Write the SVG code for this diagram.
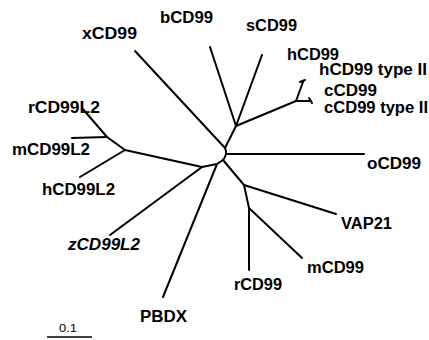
<svg xmlns="http://www.w3.org/2000/svg" width="429" height="340" viewBox="0 0 429 340">
<style>
.l{font-family:"Liberation Sans",Arial,sans-serif;font-weight:bold;font-size:16px;fill:#000}
.i{font-style:italic}
.s{font-family:"Liberation Sans",Arial,sans-serif;font-size:10px;fill:#000}
.e{fill:none;stroke:#000;stroke-width:2;stroke-linecap:round;stroke-linejoin:round}
</style>
<rect width="429" height="340" fill="#fff"/>
<g id="connectors" class="e">
<path d="M135,51 L225,148"/>
<path d="M210,47 L236,126"/>
<path d="M262,55 L236,126"/>
<path d="M236,126 L225,148"/>
<path d="M236,126 L296,101"/>
<path d="M296,101 L303,82"/>
<path d="M300,82 L305,80"/>
<path d="M296,101 L311,101"/>
<path d="M309,98 L312,103"/>
<path d="M225,148 Q228,154 223,160"/>
<path d="M226,154 L364,154"/>
<path d="M223,160 L217,164 L202,167 L125,150"/>
<path d="M202,167 L110,235"/>
<path d="M217,164 L163,297"/>
<path d="M223,160 L244,185 L336,214"/>
<path d="M244,185 L249,208 L249,270"/>
<path d="M249,208 L302,258"/>
<path d="M125,150 L107,137 L82,108"/>
<path d="M107,137 L72,138"/>
<path d="M125,150 L80,177"/>
</g>
<g id="xCD99"><text class="l" x="82" y="39" textLength="55" lengthAdjust="spacingAndGlyphs">xCD99</text></g>
<g id="bCD99"><text class="l" x="160" y="23" textLength="53" lengthAdjust="spacingAndGlyphs">bCD99</text></g>
<g id="sCD99"><text class="l" x="246" y="31" textLength="51" lengthAdjust="spacingAndGlyphs">sCD99</text></g>
<g id="hCD99"><text class="l" x="287" y="60" textLength="52" lengthAdjust="spacingAndGlyphs">hCD99</text></g>
<g id="hCD99typeII"><text class="l" x="319" y="75" textLength="108" lengthAdjust="spacingAndGlyphs">hCD99 type II</text></g>
<g id="cCD99"><text class="l" x="324" y="96" textLength="53" lengthAdjust="spacingAndGlyphs">cCD99</text></g>
<g id="cCD99typeII"><text class="l" x="324" y="113" textLength="104" lengthAdjust="spacingAndGlyphs">cCD99 type II</text></g>
<g id="oCD99"><text class="l" x="367" y="169" textLength="54" lengthAdjust="spacingAndGlyphs">oCD99</text></g>
<g id="rCD99L2"><text class="l" x="28" y="113" textLength="72" lengthAdjust="spacingAndGlyphs">rCD99L2</text></g>
<g id="mCD99L2"><text class="l" x="12" y="155" textLength="78" lengthAdjust="spacingAndGlyphs">mCD99L2</text></g>
<g id="hCD99L2"><text class="l" x="42" y="195" textLength="73" lengthAdjust="spacingAndGlyphs">hCD99L2</text></g>
<g id="zCD99L2"><text class="l i" x="68" y="250" textLength="72" lengthAdjust="spacingAndGlyphs">zCD99L2</text></g>
<g id="PBDX"><text class="l" x="140" y="322" textLength="47" lengthAdjust="spacingAndGlyphs">PBDX</text></g>
<g id="rCD99"><text class="l" x="234" y="290" textLength="48" lengthAdjust="spacingAndGlyphs">rCD99</text></g>
<g id="mCD99"><text class="l" x="307" y="273" textLength="57" lengthAdjust="spacingAndGlyphs">mCD99</text></g>
<g id="VAP21"><text class="l" x="341" y="229" textLength="51" lengthAdjust="spacingAndGlyphs">VAP21</text></g>
<g id="scale">
<path d="M47,337 L92,337" fill="none" stroke="#000" stroke-width="1.5"/>
<text class="s" x="59" y="332" textLength="18" lengthAdjust="spacingAndGlyphs">0.1</text>
</g>
</svg>
